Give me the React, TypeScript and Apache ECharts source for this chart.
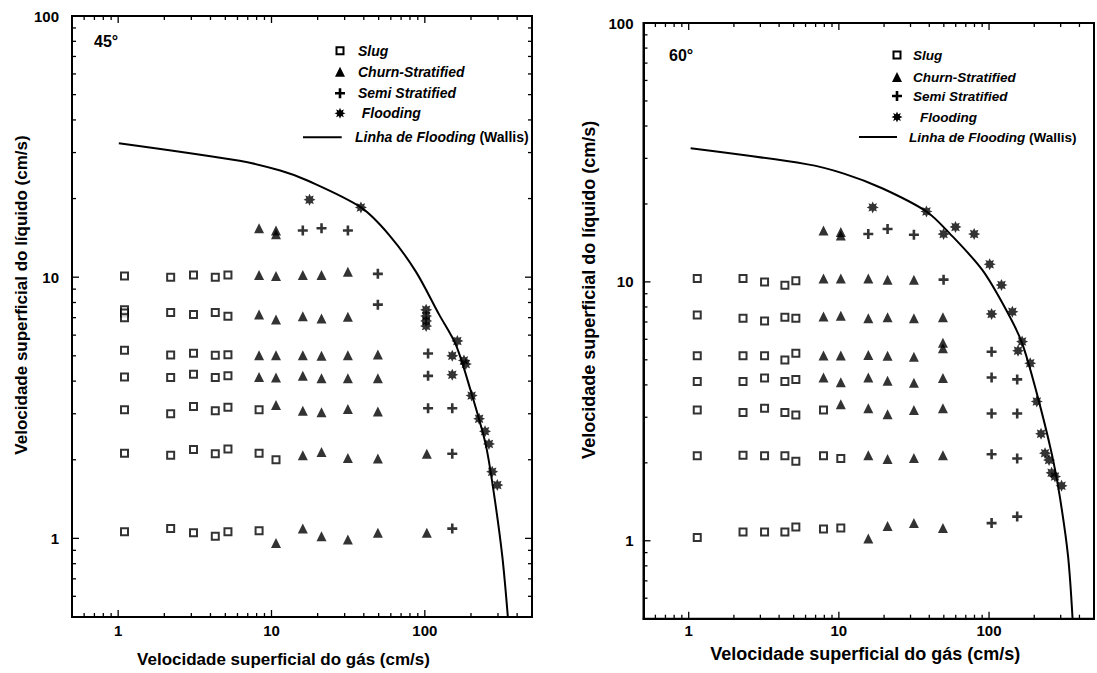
import React, { useEffect, useRef } from "react";
import * as echarts from "echarts";

// Axis ranges shared by both panels (log-log)
const X_MIN = 0.5;
const X_MAX = 500;
const Y_MIN = 0.5;
const Y_MAX = 100;

const majorTicks = [1, 10, 100];
const minorTicksX = [0.6, 0.7, 0.8, 0.9, 2, 3, 4, 5, 6, 7, 8, 9, 20, 30, 40, 50, 60, 70, 80, 90, 200, 300, 400];
const minorTicksY = [0.6, 0.7, 0.8, 0.9, 2, 3, 4, 5, 6, 7, 8, 9, 20, 30, 40, 50, 60, 70, 80, 90];

const panelTitles = ["45°", "60°"];
const seriesNames = ["Slug", "Churn-Stratified", "Semi Stratified", "Flooding", "Linha de Flooding (Wallis)"];
const xAxisTitle = "Velocidade superficial do gás (cm/s)";
const yAxisTitle = "Velocidade superficial do líquido (cm/s)";

// ---- 45° ----
const slug45 = [
  [1.1, 10.1], [1.1, 7.5], [1.1, 7.3], [1.1, 7.0], [1.1, 5.25], [1.1, 4.15], [1.1, 3.11], [1.1, 2.12], [1.1, 1.06],
  [2.2, 10.0], [2.2, 7.33], [2.2, 5.04], [2.2, 4.13], [2.2, 3.0], [2.2, 2.08], [2.2, 1.09],
  [3.1, 10.2], [3.1, 7.19], [3.1, 5.11], [3.1, 4.25], [3.1, 3.2], [3.1, 2.19], [3.1, 1.05],
  [4.3, 10.0], [4.3, 7.33], [4.3, 5.02], [4.3, 4.13], [4.3, 3.08], [4.3, 2.11], [4.3, 1.02],
  [5.2, 10.2], [5.2, 7.09], [5.2, 5.05], [5.2, 4.19], [5.2, 3.18], [5.2, 2.2], [5.2, 1.06],
  [8.3, 3.11], [8.3, 2.12], [8.3, 1.07],
  [10.7, 2.0],
];
const churn45 = [
  [8.3, 15.4], [8.3, 10.2], [8.3, 7.2], [8.3, 5.02], [8.3, 4.15],
  [10.7, 15.1], [10.7, 14.6], [10.7, 10.1], [10.7, 6.88], [10.7, 5.02], [10.7, 4.13], [10.7, 3.24], [10.7, 0.96],
  [16, 10.2], [16, 7.09], [16, 5.02], [16, 4.19], [16, 3.08], [16, 2.08], [16, 1.09],
  [21.2, 10.2], [21.2, 6.94], [21.2, 5.0], [21.2, 4.1], [21.2, 3.04], [21.2, 2.14], [21.2, 1.02],
  [31.5, 10.5], [31.5, 7.05], [31.5, 5.02], [31.5, 4.1], [31.5, 3.13], [31.5, 2.03], [31.5, 0.99],
  [49.4, 5.06], [49.4, 4.1], [49.4, 3.06], [49.4, 2.02], [49.4, 1.05],
  [103, 2.11], [103, 1.05],
];
const semi45 = [
  [16, 15.1], [21.2, 15.4], [31.5, 15.1], [49.4, 10.3], [49.4, 7.85],
  [105, 5.1], [105, 4.19], [105, 3.15], [151, 3.15], [151, 2.11], [151, 1.09],
];
const flood45 = [
  [17.7, 19.8], [38.3, 18.5], [102, 7.5], [102, 7.1], [102, 6.8], [102, 6.5],
  [163, 5.7], [151, 5.0], [180, 4.8], [185, 4.65], [151, 4.23], [202, 3.52],
  [226, 2.87], [247, 2.57], [262, 2.3], [275, 1.8], [297, 1.6],
];
const wallis45 = [
  [1.01, 32.6], [6.2, 27.9], [11.4, 25.6], [17.3, 23.4], [38.3, 18.5], [58.6, 14.5], [87.4, 10.5],
  [124, 7.19], [159, 5.53], [199, 3.68], [249, 2.3], [282, 1.49], [320, 0.855], [348, 0.5],
];

// ---- 60° ----
const slug60 = [
  [1.14, 10.3], [1.14, 7.45], [1.14, 5.18], [1.14, 4.12], [1.14, 3.2], [1.14, 2.13], [1.14, 1.03],
  [2.3, 10.3], [2.3, 7.23], [2.3, 5.18], [2.3, 4.12], [2.3, 3.13], [2.3, 2.14], [2.3, 1.08],
  [3.2, 10.0], [3.2, 7.06], [3.2, 5.18], [3.2, 4.25], [3.2, 3.25], [3.2, 2.13], [3.2, 1.08],
  [4.37, 9.7], [4.37, 7.3], [4.37, 4.99], [4.37, 4.12], [4.37, 3.13], [4.37, 2.13], [4.37, 1.08],
  [5.17, 10.1], [5.17, 7.23], [5.17, 5.3], [5.17, 4.2], [5.17, 3.06], [5.17, 2.03], [5.17, 1.13],
  [7.9, 3.2], [7.9, 2.13], [7.9, 1.11],
  [10.3, 2.08], [10.3, 1.12],
];
const churn60 = [
  [7.9, 15.8], [7.9, 10.3], [7.9, 7.35], [7.9, 5.2], [7.9, 4.27],
  [10.3, 15.6], [10.3, 15.1], [10.3, 10.3], [10.3, 7.4], [10.3, 5.2], [10.3, 4.1], [10.3, 3.37],
  [15.7, 10.3], [15.7, 7.23], [15.7, 5.22], [15.7, 4.27], [15.7, 3.25], [15.7, 2.14], [15.7, 1.02],
  [21.1, 10.2], [21.1, 7.3], [21.1, 5.18], [21.1, 4.15], [21.1, 3.08], [21.1, 2.07], [21.1, 1.14],
  [31.6, 10.2], [31.6, 7.23], [31.6, 5.14], [31.6, 4.08], [31.6, 3.2], [31.6, 2.09], [31.6, 1.17],
  [49.3, 7.3], [49.3, 5.82], [49.3, 5.54], [49.3, 4.25], [49.3, 3.25], [49.3, 2.14], [49.3, 1.12],
];
const semi60 = [
  [15.7, 15.3], [21.1, 16.0], [31.6, 15.2], [49.8, 10.2],
  [104, 5.37], [104, 4.27], [104, 3.1], [104, 2.16], [104, 1.17],
  [154, 4.2], [154, 3.1], [154, 2.08], [154, 1.24],
];
const flood60 = [
  [16.8, 19.4], [38.3, 18.7], [49.8, 15.3], [59.8, 16.3], [79.6, 15.3], [101, 11.7], [121, 9.73],
  [104, 7.52], [143, 7.67], [166, 5.88], [156, 5.42], [188, 4.85], [208, 3.45], [222, 2.59],
  [236, 2.18], [251, 2.05], [261, 1.83], [275, 1.77], [304, 1.63],
];
const wallis60 = [
  [1.03, 32.8], [6.06, 28.5], [10.8, 26.2], [19.4, 23.0], [38.3, 18.7], [54.6, 15.4], [90.4, 11.1],
  [132, 7.67], [166, 5.8], [208, 3.71], [261, 2.18], [296, 1.48], [336, 0.87], [360, 0.5],
];

const FONT = "'Liberation Sans', Arial, Helvetica, sans-serif";

// 8-pointed spiky star used for the flooding marker
function starPoints(cx: number, cy: number, ro: number, ri: number, n = 8) {
  const pts: number[][] = [];
  for (let i = 0; i < n * 2; i++) {
    const r = i % 2 === 0 ? ro : ri;
    const a = -Math.PI / 2 + (i * Math.PI) / n;
    pts.push([cx + r * Math.cos(a), cy + r * Math.sin(a)]);
  }
  return pts;
}
function plusPoints(cx: number, cy: number, h: number, a: number) {
  return [
    [cx - a, cy - h], [cx + a, cy - h], [cx + a, cy - a], [cx + h, cy - a], [cx + h, cy + a], [cx + a, cy + a],
    [cx + a, cy + h], [cx - a, cy + h], [cx - a, cy + a], [cx - h, cy + a], [cx - h, cy - a], [cx - a, cy - a],
  ];
}
function toPath(pts: number[][]) {
  return "path://M" + pts.map((p) => p[0].toFixed(3) + "," + p[1].toFixed(3)).join("L") + "Z";
}
const STAR_SYMBOL = toPath(starPoints(5, 5, 5, 2.9));
const PLUS_SYMBOL = toPath(plusPoints(5, 5, 5, 1.3));

type PanelData = {
  slug: number[][];
  churn: number[][];
  semi: number[][];
  flood: number[][];
  wallis: number[][];
};

// tick rows: [x, y, kind, length]; kind 0 = x tick, 1 = y tick on both sides, 2 = y tick left only
function tickItems(withRight: boolean) {
  const items: number[][] = [];
  majorTicks.forEach((v) => items.push([v, Y_MIN, 0, 7]));
  minorTicksX.forEach((v) => items.push([v, Y_MIN, 0, 4]));
  majorTicks.forEach((v) => items.push([X_MIN, v, withRight ? 1 : 2, 7]));
  minorTicksY.forEach((v) => items.push([X_MIN, v, withRight ? 1 : 2, 4]));
  return items;
}

function panelSeries(idx: number, d: PanelData, withRight: boolean) {
  const common = { xAxisIndex: idx, yAxisIndex: idx, z: 3 };
  return [
    {
      ...common, name: seriesNames[0], type: "scatter", data: d.slug, symbol: "rect", symbolSize: 7,
      itemStyle: { color: "#fff", borderColor: "#000", borderWidth: 2 },
    },
    { ...common, name: seriesNames[1], type: "scatter", data: d.churn, symbol: "triangle", symbolSize: [10, 10], itemStyle: { color: "#000" } },
    { ...common, name: seriesNames[2], type: "scatter", data: d.semi, symbol: PLUS_SYMBOL, symbolSize: 10, itemStyle: { color: "#000" } },
    { ...common, name: seriesNames[3], type: "scatter", data: d.flood, symbol: STAR_SYMBOL, symbolSize: 12, itemStyle: { color: "#000" } },
    {
      ...common, name: seriesNames[4], type: "line", data: d.wallis, showSymbol: false, symbol: "none",
      smooth: 0.3, lineStyle: { color: "#000", width: 2 }, z: 2,
    },
    {
      ...common, type: "custom", silent: true, clip: false, z: 5,
      dimensions: ["x", "y", "kind", "len"],
      data: tickItems(withRight),
      encode: { x: 0, y: 1 },
      renderItem: (params: any, api: any) => {
        const kind = api.value(2);
        const len = api.value(3);
        const st = { stroke: "#000", lineWidth: 1.3 };
        if (kind === 0) {
          const v = api.value(0);
          const b = api.coord([v, Y_MIN]);
          const t = api.coord([v, Y_MAX]);
          return {
            type: "group",
            children: [
              { type: "line", shape: { x1: b[0], y1: b[1], x2: b[0], y2: b[1] - len }, style: st },
              { type: "line", shape: { x1: t[0], y1: t[1], x2: t[0], y2: t[1] + len }, style: st },
            ],
          };
        }
        const v = api.value(1);
        const l = api.coord([X_MIN, v]);
        const r = api.coord([X_MAX, v]);
        const children: any[] = [{ type: "line", shape: { x1: l[0], y1: l[1], x2: l[0] + len, y2: l[1] }, style: st }];
        if (kind === 1) children.push({ type: "line", shape: { x1: r[0], y1: r[1], x2: r[0] - len, y2: r[1] }, style: st });
        return { type: "group", children };
      },
    },
  ];
}

function labelFormatter(v: number) {
  const m = majorTicks.find((t) => Math.abs(t - v) < t * 1e-6);
  return m === undefined ? "" : String(m);
}

function makeXAxis(idx: number, fontSize: number, labelMargin: number, nameGap: number, namePad: number[], nameSize: number) {
  return {
    type: "log", logBase: 10, gridIndex: idx, min: X_MIN, max: X_MAX,
    axisLine: { show: true, lineStyle: { color: "#000", width: 2 } },
    axisTick: { show: false }, splitLine: { show: false },
    axisLabel: { formatter: labelFormatter, margin: labelMargin, color: "#000", fontFamily: FONT, fontSize, fontWeight: "bold" },
    name: xAxisTitle, nameLocation: "middle", nameGap,
    nameTextStyle: { color: "#000", fontFamily: FONT, fontSize: nameSize, fontWeight: "bold", padding: namePad },
  };
}
function makeYAxis(idx: number, fontSize: number, labelMargin: number, nameGap: number, namePad: number[], nameSize: number) {
  return {
    type: "log", logBase: 10, gridIndex: idx, min: Y_MIN, max: Y_MAX,
    axisLine: { show: true, lineStyle: { color: "#000", width: 2 } },
    axisTick: { show: false }, splitLine: { show: false },
    axisLabel: { formatter: labelFormatter, margin: labelMargin, color: "#000", fontFamily: FONT, fontSize, fontWeight: "bold" },
    name: yAxisTitle, nameLocation: "middle", nameGap,
    nameTextStyle: { color: "#000", fontFamily: FONT, fontSize: nameSize, fontWeight: "bold", padding: namePad },
  };
}

type LegendLayout = {
  cx: number; rows: number[]; textX: number; floodTextX: number;
  lineX1: number; lineX2: number; lineY: number; lineTextX: number; fontSize: number;
};

function legendGraphic(L: LegendLayout) {
  const txt = (x: number, y: number, text: string) => ({
    type: "text", x, y, silent: true,
    style: {
      text, fill: "#000", fontFamily: FONT, fontSize: L.fontSize, fontWeight: "bold", fontStyle: "italic",
      verticalAlign: "middle", align: "left",
    },
  });
  const [r0, r1, r2, r3] = L.rows;
  return [
    { type: "rect", shape: { x: L.cx - 3.5, y: r0 - 3.5, width: 7, height: 7 }, style: { fill: "#fff", stroke: "#000", lineWidth: 2 }, silent: true },
    txt(L.textX, r0, seriesNames[0]),
    { type: "polygon", shape: { points: [[L.cx, r1 - 5], [L.cx + 5, r1 + 5], [L.cx - 5, r1 + 5]] }, style: { fill: "#000" }, silent: true },
    txt(L.textX, r1, seriesNames[1]),
    { type: "polygon", shape: { points: plusPoints(L.cx, r2, 5, 1.3) }, style: { fill: "#000" }, silent: true },
    txt(L.textX, r2, seriesNames[2]),
    { type: "polygon", shape: { points: starPoints(L.cx, r3, 5.5, 3) }, style: { fill: "#000" }, silent: true },
    txt(L.floodTextX, r3, seriesNames[3]),
    { type: "line", shape: { x1: L.lineX1, y1: L.lineY, x2: L.lineX2, y2: L.lineY }, style: { stroke: "#000", lineWidth: 2 }, silent: true },
    {
      type: "text", x: L.lineTextX, y: L.lineY, silent: true,
      style: {
        text: "{i|Linha de Flooding} {n|(Wallis)}", fill: "#000", verticalAlign: "middle", align: "left",
        fontFamily: FONT, fontSize: L.fontSize, fontWeight: "bold",
        rich: {
          i: { fontFamily: FONT, fontSize: L.fontSize, fontWeight: "bold", fontStyle: "italic", fill: "#000" },
          n: { fontFamily: FONT, fontSize: L.fontSize, fontWeight: "bold", fontStyle: "normal", fill: "#000" },
        },
      },
    },
  ];
}

const panelTitleStyle = (x: number, y: number, text: string) => ({
  type: "text", x, y, silent: true,
  style: { text, fill: "#000", fontFamily: FONT, fontSize: 16, fontWeight: "bold", verticalAlign: "middle", align: "left" },
});

export default function App() {
  const ref = useRef<HTMLDivElement>(null);

  useEffect(() => {
    if (!ref.current) return;
    const chart = echarts.init(ref.current, undefined, { renderer: "svg" });
    const p45: PanelData = { slug: slug45, churn: churn45, semi: semi45, flood: flood45, wallis: wallis45 };
    const p60: PanelData = { slug: slug60, churn: churn60, semi: semi60, flood: flood60, wallis: wallis60 };

    chart.setOption({
      animation: false,
      backgroundColor: "#fff",
      grid: [
        { left: 72, top: 16, width: 460, height: 605, show: true, borderColor: "#000", borderWidth: 2, backgroundColor: "transparent" },
        { left: 643.5, top: 23, width: 456, height: 595.7, show: true, borderColor: "#000", borderWidth: 2, backgroundColor: "transparent" },
      ],
      xAxis: [
        makeXAxis(0, 15, 6, 34, [0, 37, 0, 0], 17),
        makeXAxis(1, 15, 4, 26, [0, 7, 0, 0], 18),
      ],
      yAxis: [
        makeYAxis(0, 15, 13, 41, [0, 0, 0, 43], 17),
        makeYAxis(1, 15, 10, 46, [0, 0, 0, 62], 18),
      ],
      series: [...panelSeries(0, p45, true), ...panelSeries(1, p60, false)],
      graphic: [
        panelTitleStyle(94, 41, panelTitles[0]),
        panelTitleStyle(669, 55, panelTitles[1]),
        ...legendGraphic({ cx: 340, rows: [50.7, 71.7, 93.3, 113.3], textX: 358, floodTextX: 361.7, lineX1: 303, lineX2: 341.7, lineY: 137.3, lineTextX: 355, fontSize: 14 }),
        ...legendGraphic({ cx: 897, rows: [55, 77, 96, 117], textX: 913, floodTextX: 920, lineX1: 859, lineX2: 897, lineY: 137, lineTextX: 909, fontSize: 13.5 }),
      ],
    });

    return () => chart.dispose();
  }, []);

  return (
    <div
      ref={ref}
      style={{ position: "fixed", left: 0, top: 0, width: 1097, height: 673, background: "#fff" }}
    />
  );
}
